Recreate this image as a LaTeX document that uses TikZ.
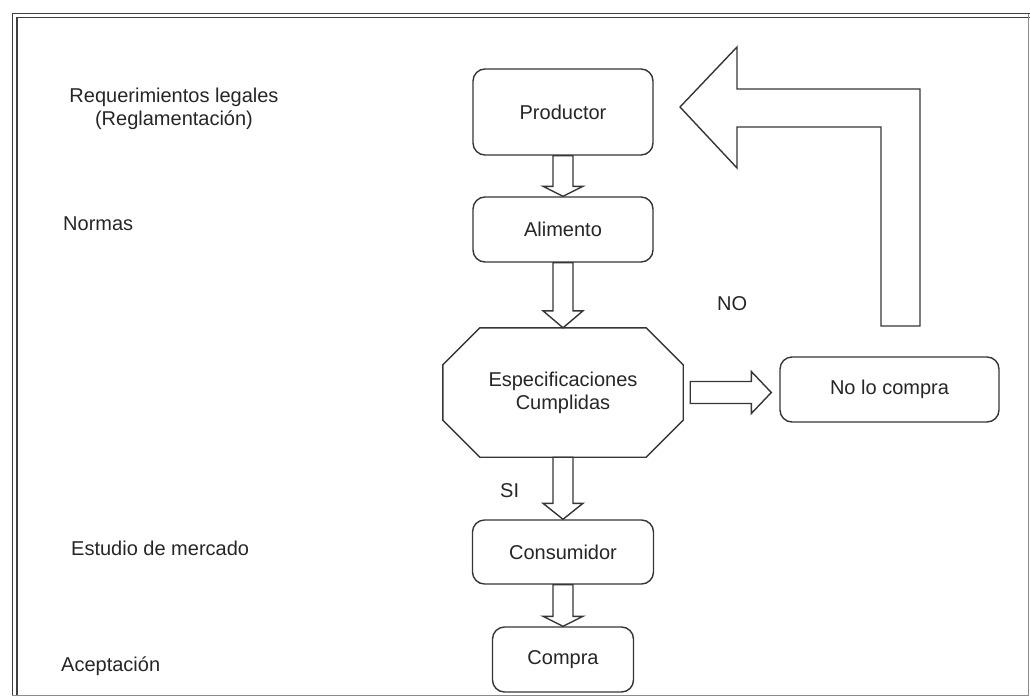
\documentclass[tikz,border=0pt]{standalone}
\usepackage{fontspec}
\setmainfont{Liberation Sans}
\usetikzlibrary{calc}

\definecolor{ink}{HTML}{262626}
\definecolor{edge}{HTML}{363636}

\tikzset{
  lbl/.style={font=\fontsize{20pt}{23pt}\selectfont, text=ink, inner sep=0pt},
  box/.style={lbl, draw=edge, line width=1.4pt, rounded corners=12pt, fill=white},
  outline/.style={draw=edge, line width=1.4pt, line join=miter},
  blockarrow/.style={outline, fill=white},
  framerule/.style={draw=black!75, line width=1.4pt},
}

% vertical hollow arrow: #1 upper node, #2 lower node, #3 head length
\newcommand{\downblock}[3]{%
  \draw[blockarrow] let \p1=(#1.south), \p2=(#2.north) in
    (\x1-10pt,\y1) -- (\x1+10pt,\y1) -- (\x1+10pt,\y2+#3) -- (\x1+20pt,\y2+#3)
    -- (\x1,\y2) -- (\x1-20pt,\y2+#3) -- (\x1-10pt,\y2+#3) -- cycle;}

\begin{document}
\begin{tikzpicture}[x=1pt,y=-1pt]
  \useasboundingbox (0,0) rectangle (1030,696);

  % double frame on top and left, light rule on right and bottom
  \draw[framerule] (12.5,696) -- (12.5,13.5) -- (1030,13.5);
  \draw[framerule] (17,696) -- (17,17.5) -- (1030,17.5);
  \draw[black!45, line width=0.8pt] (1028.5,14) -- (1028.5,696);
  \draw[black!45, line width=1pt] (12,695.5) -- (1028,695.5);

  % side labels
  \node[lbl, align=center, anchor=base] (req) at (174,125) {Requerimientos legales\\(Reglamentación)};
  \node[lbl, anchor=base west] (normas) at (63,230) {Normas};
  \node[lbl, anchor=base west] (estudio) at (71,555) {Estudio de mercado};
  \node[lbl, anchor=base west] (acept) at (61,671) {Aceptación};

  % main flow
  \node[box, minimum width=180pt, minimum height=86pt] (prod) at (563,112) {Productor};
  \node[box, minimum width=180pt, minimum height=65pt] (alim) at (563,229.5) {Alimento};
  \node[lbl, align=center, minimum width=240pt, minimum height=129pt] (spec) at (563,392.5) {Especificaciones\\Cumplidas};
  \draw[outline]
    ($(spec.north west)+(37pt,0)$) -- ($(spec.north east)+(-37pt,0)$)
    -- ($(spec.north east)+(0,-37pt)$) -- ($(spec.south east)+(0,37pt)$)
    -- ($(spec.south east)+(-37pt,0)$) -- ($(spec.south west)+(37pt,0)$)
    -- ($(spec.south west)+(0,37pt)$) -- ($(spec.north west)+(0,-37pt)$) -- cycle;
  \node[box, minimum width=219pt, minimum height=65pt] (nolo) at (889.5,389.5) {No lo compra};
  \node[box, minimum width=181pt, minimum height=64pt] (cons) at (563,552) {Consumidor};
  \node[box, minimum width=141pt, minimum height=65pt] (compra) at (563,659.5) {Compra};

  % hollow connectors
  \downblock{prod}{alim}{10pt}
  \downblock{alim}{spec}{17pt}
  \downblock{spec}{cons}{16pt}
  \downblock{cons}{compra}{10pt}
  \draw[blockarrow] let \p1=(spec.east), \p2=(nolo.west) in
    (\x1+7pt,\y1+11pt) -- (\x2-28pt,\y1+11pt) -- (\x2-28pt,\y1+21pt) -- (\x2-8pt,\y1)
    -- (\x2-28pt,\y1-21pt) -- (\x2-28pt,\y1-11pt) -- (\x1+7pt,\y1-11pt) -- cycle;

  % return arrow back to the producer
  \coordinate (looptip) at (680,107);
  \coordinate (loopfoot) at (900.5,326);
  \draw[blockarrow] (looptip) -- (737,47) -- (737,89) -- (920,89) -- (920,326)
    -- (881,326) -- (881,127) -- (737,127) -- (737,168) -- cycle;

  % decision labels
  \node[lbl, anchor=base west] (nolabel) at (717,310) {NO};
  \node[lbl, anchor=base west] (silabel) at (500,497) {SI};
\end{tikzpicture}
\end{document}
